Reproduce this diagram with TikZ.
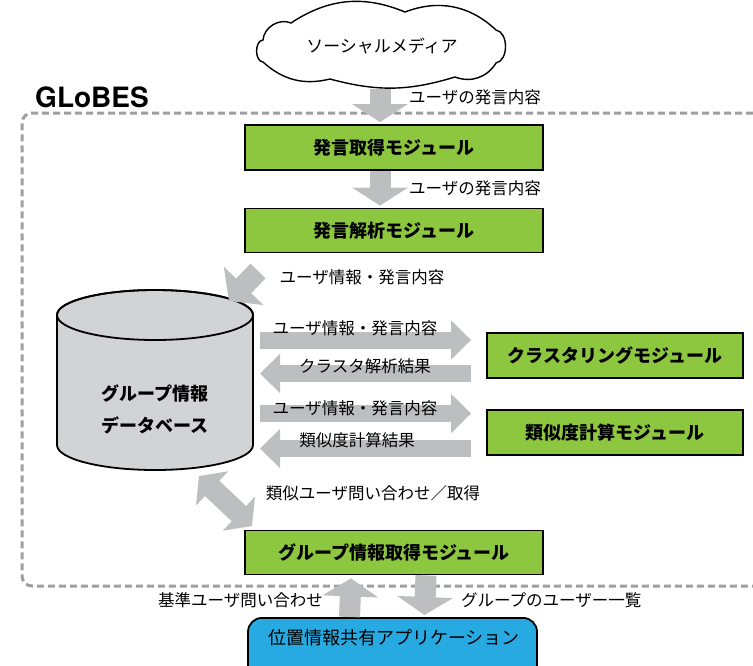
\documentclass[tikz,border=0pt]{standalone}
\usepackage{fontspec}
\setmainfont{Noto Sans CJK JP}
\newfontfamily\heros{TeX Gyre Heros}
\usetikzlibrary{arrows.meta,calc}
\definecolor{modgreen}{HTML}{8DC63F}
\definecolor{appblue}{HTML}{27AAE1}
\definecolor{arrgray}{HTML}{BCBEC0}
\definecolor{dbgray}{HTML}{D1D3D4}
\definecolor{dashgray}{HTML}{9D9FA2}
\begin{document}
\begin{tikzpicture}[x=1pt,y=1pt,
  module/.style={draw=black, line width=1.8pt, fill=modgreen, minimum width=298pt,
    minimum height=44pt, inner sep=0pt, font=\bfseries\fontsize{18}{18}\selectfont},
  lbl/.style={font=\fontsize{16.5}{16.5}\selectfont, inner sep=0pt},
  blockv/.style={arrgray, line width=21pt, -{Triangle[width=55pt,length=18pt]}},
  blockh/.style={arrgray, line width=17pt, -{Triangle[width=38pt,length=20pt]}},
  blockd/.style={arrgray, line width=21pt, -{Triangle[width=54pt,length=21pt]}},
  blockdd/.style={arrgray, line width=21pt, {Triangle[width=46pt,length=18pt]}-{Triangle[width=46pt,length=18pt]}}
]
\useasboundingbox (0,0) rectangle (753,-665);
\clip (0,0) rectangle (753,-665);

% system boundary
\draw[dashgray, line width=3pt, dash pattern=on 7pt off 4pt, rounded corners=10pt]
  (775,-113) -- (22,-113) -- (22,-586) -- (775,-586);

% cloud
\filldraw[fill=white, draw=black, line width=1.4pt]
  (263,-62) to[bend left=85] (263,-40) to[bend left=55] (291,-23)
  to[bend left=28] (405,-12) to[bend left=32] (496,-30)
  to[bend left=80] (496,-63) to[bend left=40] (455,-77)
  to[bend left=16] (330,-79) to[bend left=28] cycle;
\node[font=\fontsize{17}{17}\selectfont, inner sep=0pt] (sns) at (382,-46) {ソーシャルメディア};

% nodes
\node[font=\heros\bfseries\fontsize{28}{28}\selectfont, inner sep=0pt] (globes) at (92,-97) {GLoBES};
\node[module, minimum height=45pt] (m1) at (394,-147.5) {発言取得モジュール};
\node[module] (m2) at (394,-230.5) {発言解析モジュール};
\node[module, minimum width=256pt, minimum height=45pt] (mc) at (615,-355.5) {クラスタリングモジュール};
\node[module, minimum width=256pt, minimum height=45pt] (ms) at (615,-432.5) {類似度計算モジュール};
\node[module] (mg) at (394,-552.5) {グループ情報取得モジュール};
\node[draw=black, line width=1.8pt, fill=appblue, rounded corners=14pt, minimum width=289pt,
  minimum height=80pt, anchor=north, inner sep=0pt] (app) at (392.5,-617) {};
\node[font=\fontsize{18}{18}\selectfont, inner sep=0pt] (apptext) at (394,-638) {位置情報共有アプリケーション};

% database cylinder
\filldraw[fill=dbgray, draw=black, line width=1.8pt]
  (57,-315) -- (57,-445) arc[start angle=180, end angle=360, x radius=98, y radius=25]
  -- (253,-315) arc[start angle=0, end angle=180, x radius=98, y radius=25] -- cycle;
\draw[black, line width=1.8pt] (155,-315) ellipse[x radius=98, y radius=25];
\node[align=center, inner sep=0pt, font=\bfseries\fontsize{18}{32}\selectfont] (db) at (155,-409)
  {グループ情報\\データベース};
\coordinate (dbE) at (260,-380);

% arrows
\draw[blockv] ([xshift=-14pt,yshift=35pt]m1.north) -- ([xshift=-14pt,yshift=2pt]m1.north);
\draw[blockv] ([xshift=-14pt]m1.south) -- ([xshift=-14pt,yshift=2pt]m2.north);
\coordinate (d1s) at (258,-271);
\coordinate (d1e) at (229,-301);
\draw[blockd] (d1s) -- (d1e);

\draw[blockh] ($(dbE)+(0,40)$) -- ([yshift=15.5pt,xshift=-15pt]mc.west);
\draw[blockh] ([yshift=-18pt,xshift=-15pt]mc.west) -- ($(dbE)+(0,6.5)$);
\draw[blockh] ($(dbE)+(0,-33.5)$) -- ([yshift=19pt,xshift=-15pt]ms.west);
\draw[blockh] ([yshift=-16pt,xshift=-15pt]ms.west) -- ($(dbE)+(0,-68.5)$);

\coordinate (d2a) at (199,-476);
\coordinate (d2b) at (252,-526);
\draw[blockdd] (d2a) -- (d2b);

\draw[blockv] ([xshift=-43pt]app.north) -- ([xshift=-43pt,yshift=-3pt]mg.south);
\draw[blockv] ([xshift=32pt]mg.south) -- ([xshift=32pt,yshift=2pt]app.north);

% labels
\node[lbl] at (475,-97) {ユーザの発言内容};
\node[lbl] at (475,-188) {ユーザの発言内容};
\node[lbl] at (362,-277) {ユーザ情報・発言内容};
\node[lbl] at (355,-328) {ユーザ情報・発言内容};
\node[lbl] at (365,-366) {クラスタ解析結果};
\node[lbl] at (355,-408) {ユーザ情報・発言内容};
\node[lbl] at (357,-440) {類似度計算結果};
\node[lbl] at (373,-493) {類似ユーザ問い合わせ／取得};
\node[lbl, anchor=east] at (323,-600) {基準ユーザ問い合わせ};
\node[lbl, anchor=west] at (461,-600) {グループのユーザー一覧};
\end{tikzpicture}
\end{document}
